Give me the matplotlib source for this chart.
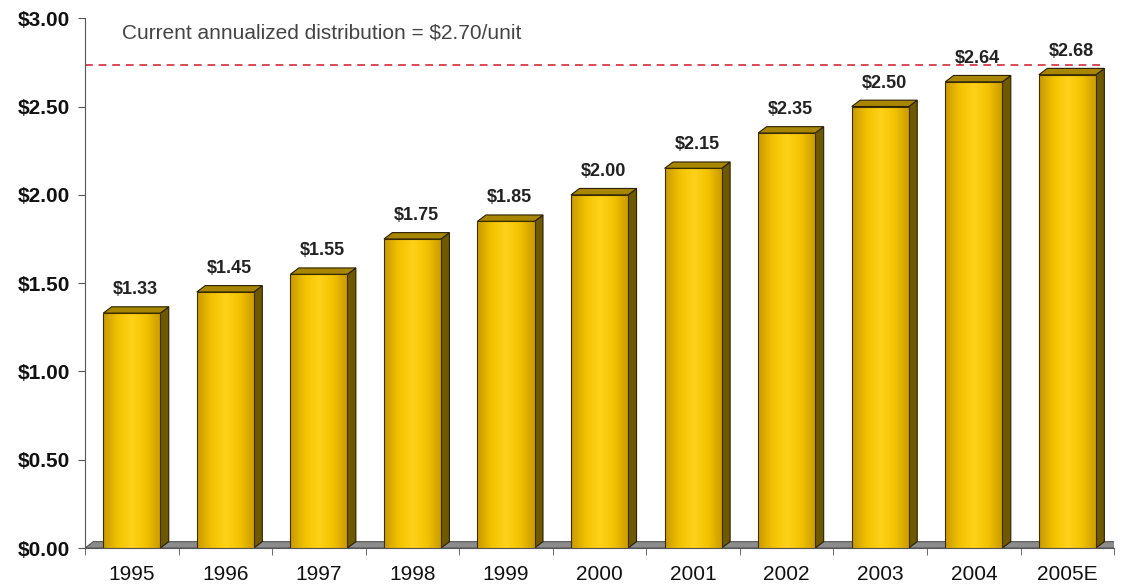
import numpy as np
import matplotlib.pyplot as plt
from matplotlib.patches import Polygon, Rectangle
from matplotlib.colors import LinearSegmentedColormap

# Data
years = ['1995', '1996', '1997', '1998', '1999', '2000', '2001', '2002', '2003', '2004', '2005E']
dist = [1.33, 1.45, 1.55, 1.75, 1.85, 2.00, 2.15, 2.35, 2.50, 2.64, 2.68]
current_rate = 2.70
yticks = [0.0, 0.5, 1.0, 1.5, 2.0, 2.5, 3.0]

plt.rcParams['font.family'] = ['Liberation Sans', 'DejaVu Sans']

fig = plt.figure(figsize=(11.26, 5.88), dpi=100)
ax = fig.add_axes([0.0755, 0.068, 0.914, 0.901])

n = len(years)
width = 0.61
dx = 0.09    # depth of the 3D effect, x data units
dy = 0.036   # depth, y data units

gold = LinearSegmentedColormap.from_list('gold', ['#c99a00', '#f2c200', '#ffd21a', '#f2c200', '#c99a00'])
grad = np.linspace(0, 1, 64).reshape(1, -1)

# floor
floor = Polygon([[-0.5, 0], [n - 0.5, 0], [n - 0.5 + dx, dy], [-0.5 + dx, dy]],
                closed=True, fc='#8c8c8c', ec='#555555', lw=0.8, zorder=1)
ax.add_patch(floor)

for i, v in enumerate(dist):
    x0 = i - width / 2
    x1 = i + width / 2
    # side face
    side = Polygon([[x1, 0], [x1 + dx, dy], [x1 + dx, v + dy], [x1, v]],
                   closed=True, fc='#6e5800', ec='#2a2000', lw=0.8, zorder=2)
    ax.add_patch(side)
    # top face
    top = Polygon([[x0, v], [x0 + dx, v + dy], [x1 + dx, v + dy], [x1, v]],
                  closed=True, fc='#a88600', ec='#2a2000', lw=0.8, zorder=2)
    ax.add_patch(top)
    # front face with gradient
    im = ax.imshow(grad, cmap=gold, aspect='auto', extent=[x0, x1, 0, v],
                   interpolation='bicubic', zorder=3)
    front = Rectangle((x0, 0), width, v, fc='none', ec='#3a2e00', lw=0.8, zorder=4)
    ax.add_patch(front)
    im.set_clip_path(front)
    ax.text(i + 0.04, v + 0.085, f'${v:.2f}', ha='center', va='bottom',
            fontsize=13, fontweight='bold', color='#222222', zorder=5)

ax.set_xlim(-0.5, n - 0.5)
ax.set_ylim(0, 3.0)

# dashed line for current distribution
ax.hlines(current_rate + dy, -0.5, n - 0.6, color='#d94a55', ls=(0, (4, 3)), lw=1.4, zorder=1)
ax.text(-0.105, 2.915, 'Current annualized distribution = $2.70/unit', fontsize=15,
        color='#444444', ha='left', va='center')

ax.set_yticks(yticks)
ax.set_yticklabels([f'${t:.2f}' for t in yticks], fontsize=15, fontweight='bold', color='#111111')
ax.set_xticks(np.arange(n))
ax.set_xticklabels(years, fontsize=15, color='#111111')
ax.set_xticks(np.arange(n + 1) - 0.5, minor=True)
ax.tick_params(axis='x', which='major', length=0, pad=12)
ax.tick_params(axis='x', which='minor', length=5, color='#555555', direction='out')
ax.tick_params(axis='y', length=5, color='#555555', pad=6)

for s in ['top', 'right']:
    ax.spines[s].set_visible(False)
ax.spines['left'].set_color('#555555')
ax.spines['bottom'].set_color('#555555')

fig.savefig('out.png', dpi=100)
